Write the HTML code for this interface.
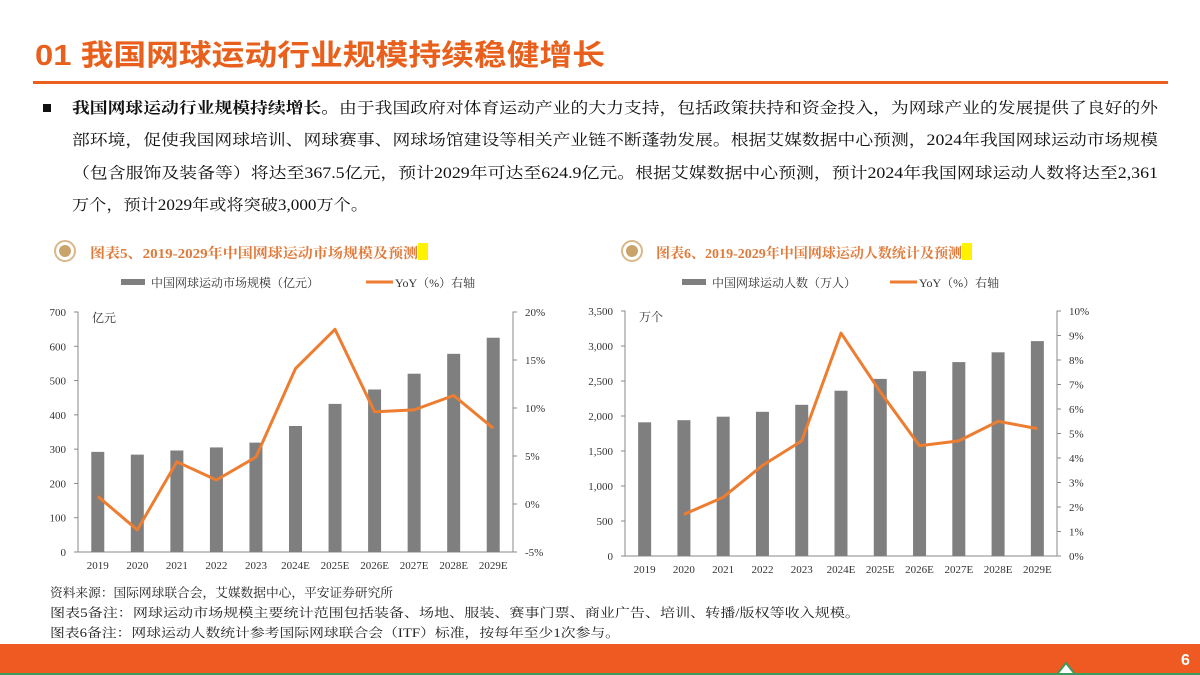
<!DOCTYPE html>
<html><head><meta charset="utf-8"><style>
html,body{margin:0;padding:0;background:#fff;}
svg{display:block;font-family:"Liberation Serif","Noto Serif CJK SC","Noto Sans CJK SC",serif;}
</style></head><body>
<svg id="s" width="1200" height="675" viewBox="0 0 1200 675" xmlns="http://www.w3.org/2000/svg">
<text x="35" y="65" font-size="29" font-weight="bold" fill="#E8601C" font-family="Liberation Sans,Noto Sans CJK SC,sans-serif" textLength="570" lengthAdjust="spacingAndGlyphs">01  我国网球运动行业规模持续稳健增长</text>
<rect x="33" y="81" width="1135" height="3" fill="#E8601C"/>
<rect x="43" y="104" width="8" height="8" fill="#111"/>
<g font-size="15.5" fill="#111">
<text x="72" y="113" textLength="1086" lengthAdjust="spacingAndGlyphs"><tspan font-weight="bold">我国网球运动行业规模持续增长。</tspan>由于我国政府对体育运动产业的大力支持，包括政策扶持和资金投入，为网球产业的发展提供了良好的外</text>
<text x="72" y="145" textLength="1086" lengthAdjust="spacingAndGlyphs">部环境，促使我国网球培训、网球赛事、网球场馆建设等相关产业链不断蓬勃发展。根据艾媒数据中心预测，2024年我国网球运动市场规模</text>
<text x="72" y="178" textLength="1086" lengthAdjust="spacingAndGlyphs">（包含服饰及装备等）将达至367.5亿元，预计2029年可达至624.9亿元。根据艾媒数据中心预测，预计2024年我国网球运动人数将达至2,361</text>
<text x="72" y="210" textLength="296" lengthAdjust="spacingAndGlyphs">万个，预计2029年或将突破3,000万个。</text>
</g>
<g>
<circle cx="65" cy="251" r="10" fill="none" stroke="#D9B88A" stroke-width="2"/><circle cx="65" cy="251" r="6" fill="#C9A36A"/>
<rect x="418" y="243" width="10" height="17" fill="#FFF200"/>
<text x="90" y="258" font-size="14" font-weight="bold" fill="#E07A3A" textLength="328" lengthAdjust="spacingAndGlyphs">图表5、2019-2029年中国网球运动市场规模及预测</text>
</g>
<g>
<circle cx="632" cy="251" r="10" fill="none" stroke="#D9B88A" stroke-width="2"/><circle cx="632" cy="251" r="6" fill="#C9A36A"/>
<rect x="962" y="243" width="10" height="17" fill="#FFF200"/>
<text x="656" y="258" font-size="14" font-weight="bold" fill="#E07A3A" textLength="306" lengthAdjust="spacingAndGlyphs">图表6、2019-2029年中国网球运动人数统计及预测</text>
</g>
<g id="c1"></g>
<g id="c2"></g>
<g font-size="12.5" fill="#222">
<text x="50" y="597" textLength="343" lengthAdjust="spacingAndGlyphs">资料来源：国际网球联合会，艾媒数据中心，平安证券研究所</text>
<text x="50" y="617" textLength="810" lengthAdjust="spacingAndGlyphs">图表5备注：网球运动市场规模主要统计范围包括装备、场地、服装、赛事门票、商业广告、培训、转播/版权等收入规模。</text>
<text x="50" y="637" textLength="570" lengthAdjust="spacingAndGlyphs">图表6备注：网球运动人数统计参考国际网球联合会（ITF）标准，按每年至少1次参与。</text>
</g>
<rect x="0" y="644" width="1200" height="29" fill="#EE5A22"/>
<rect x="0" y="673" width="1200" height="2" fill="#3C9A5A"/>
<path d="M1058 673 L1066 663 L1074 673" fill="#fff" stroke="#3C9A5A" stroke-width="2"/>
<text x="1181" y="665" font-size="16" font-weight="bold" fill="#fff" font-family="Liberation Sans,sans-serif">6</text>
</svg>
<script>
const categories=["2019","2020","2021","2022","2023","2024E","2025E","2026E","2027E","2028E","2029E"];
const marketSize=[292,284,296,305,319,367.5,432,474,520,578,624.9];
const marketYoY=[0.8,-2.7,4.4,2.5,4.9,14.1,18.2,9.6,9.8,11.3,7.9];
const players=[1910,1940,1990,2060,2160,2361,2530,2640,2770,2910,3070];
const playersYoY=[null,1.7,2.4,3.7,4.7,9.1,6.7,4.5,4.7,5.5,5.2];
const leftTicks1=[0,100,200,300,400,500,600,700];
const rightTicks1=[-5,0,5,10,15,20];
const leftTicks2=[0,500,1000,1500,2000,2500,3000,3500];
const rightTicks2=[0,1,2,3,4,5,6,7,8,9,10];
const NS="http://www.w3.org/2000/svg";
function mk(p,tag,a,txt){const e=document.createElementNS(NS,tag);for(const k in a)e.setAttribute(k,a[k]);if(txt!=null)e.textContent=txt;p.appendChild(e);return e;}
function fmt(v){return v.toLocaleString("en-US");}
function draw(g,o){
 const n=categories.length,step=(o.x1-o.x0)/n;
 const xc=i=>o.x0+step*(i+0.5);
 const yl=v=>o.yb-(v-o.lmin)/(o.lmax-o.lmin)*(o.yb-o.yt);
 const yr=v=>o.yb-(v-o.rmin)/(o.rmax-o.rmin)*(o.yb-o.yt);
 // legend
 let r=mk(g,"rect",{x:o.legX,y:279,width:24,height:6,fill:"#7F7F7F"});
 
 
 let t=mk(g,"text",{x:o.legX+30,y:287,"font-size":12,fill:"#333"},o.legBar);
 
 
 let l=mk(g,"line",{x1:o.legX2,y1:282,x2:o.legX2+27,y2:282,stroke:"#ED7D31","stroke-width":3});
 
 
 t=mk(g,"text",{x:o.legX2+29,y:287,"font-size":12,fill:"#333"},"YoY（%）右轴");
 
 
 // axes
 let ax=mk(g,"path",{d:`M${o.x0-4} ${o.yt}H${o.x0}V${o.yb}H${o.x1}V${o.yt}H${o.x1+4}`,fill:"none",stroke:"#888","stroke-width":1});
 
 
 o.lt.forEach(v=>{
  mk(g,"line",{x1:o.x0-4,x2:o.x0,y1:yl(v),y2:yl(v),stroke:"#888"});
  const tx=mk(g,"text",{x:o.x0-12,y:yl(v)+4,"font-size":11,"text-anchor":"end",fill:"#333"},fmt(v));
  
  
 });
 o.rt.forEach(v=>{
  mk(g,"line",{x1:o.x1,x2:o.x1+4,y1:yr(v),y2:yr(v),stroke:"#888"});
  const tx=mk(g,"text",{x:o.x1+12,y:yr(v)+4,"font-size":11,fill:"#333"},v+"%");
  
  
 });
 const u=mk(g,"text",{x:o.x0+14,y:o.yt+10,"font-size":12,fill:"#333"},o.unit);
 
 
 categories.forEach((c,i)=>{
  const b=mk(g,"rect",{x:xc(i)-6.5,y:yl(o.bars[i]),width:13,height:o.yb-yl(o.bars[i]),fill:"#7F7F7F"});
  
  
  const tx=mk(g,"text",{x:xc(i),y:o.yb+17,"font-size":11,"text-anchor":"middle",fill:"#333"},c);
  
  
 });
 const pts=[];o.line.forEach((v,i)=>{if(v!=null)pts.push(xc(i).toFixed(1)+","+yr(v).toFixed(1));});
 const pl=mk(g,"polyline",{points:pts.join(" "),fill:"none",stroke:"#ED7D31","stroke-width":3,"stroke-linejoin":"round"});
 
 
}
draw(document.getElementById("c1"),{x0:78,x1:513,yt:312,yb:552,lmin:0,lmax:700,rmin:-5,rmax:20,lt:leftTicks1,rt:rightTicks1,bars:marketSize,line:marketYoY,unit:"亿元",legX:121,legBar:"中国网球运动市场规模（亿元）",legX2:366});
draw(document.getElementById("c2"),{x0:625,x1:1057,yt:311,yb:556,lmin:0,lmax:3500,rmin:0,rmax:10,lt:leftTicks2,rt:rightTicks2,bars:players,line:playersYoY,unit:"万个",legX:682,legBar:"中国网球运动人数（万人）",legX2:890});
</script>
</body></html>
